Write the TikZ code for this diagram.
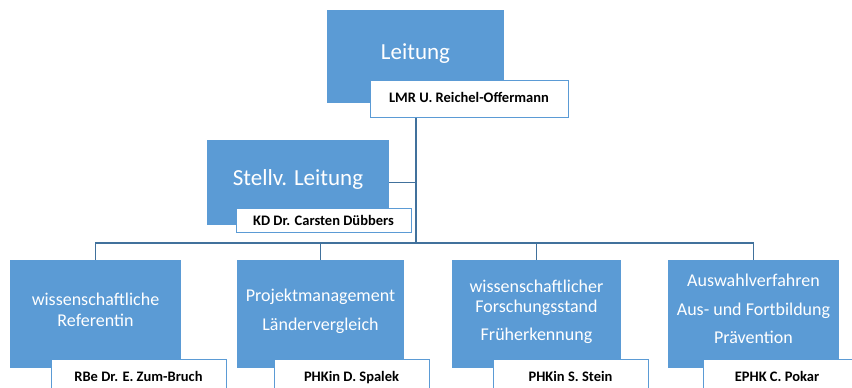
\documentclass[tikz,border=0pt]{standalone}
\usepackage{fontspec}
\setmainfont{Carlito}
\usetikzlibrary{fit}
\definecolor{boxblue}{HTML}{5B9BD5}
\definecolor{lineblue}{HTML}{41719C}
\tikzset{
  bluebox/.style={fill=boxblue, draw=none, inner sep=0pt},
  namebox/.style={fill=white, draw=boxblue, line width=1pt, inner sep=0pt},
  bigtxt/.style={text=white, font=\fontsize{23}{27}\selectfont, anchor=base, inner sep=0pt},
  midtxt/.style={text=white, font=\fontsize{18}{22}\selectfont, anchor=base, inner sep=0pt},
  nametxt/.style={text=black, font=\fontsize{14.5}{17}\selectfont\bfseries, anchor=base, inner sep=0pt},
  conn/.style={draw=lineblue, line width=1.8pt}
}
\begin{document}
\begin{tikzpicture}[x=1pt,y=-1pt]
\useasboundingbox (0,0) rectangle (852,388);
\coordinate (bus) at (416,243);
% top box
\node[bluebox, fit={(327,10)(504,103)}] (lei) {};
\node[bigtxt] (leit) at (415.5,59) {Leitung};
\node[namebox, fit={(370,80)(568,117)}] (lname) {};
\node[nametxt] (lnamet) at (469,102.5) {LMR U. Reichel-Offermann};
% deputy
\node[bluebox, fit={(207,140)(389,225)}] (stv) {};
\node[bigtxt] (stvt) at (298,185) {Stellv. Leitung};
\node[namebox, fit={(236,208)(411,232)}] (sname) {};
\node[nametxt] (snamet) at (323.5,225) {KD Dr. Carsten Dübbers};
% bottom boxes
\node[bluebox, fit={(10,260)(181,368)}] (b1) {};
\node[bluebox, fit={(237,260)(404,368)}] (b2) {};
\node[bluebox, fit={(452,260)(621,368)}] (b3) {};
\node[bluebox, fit={(668,260)(839,368)}] (b4) {};
\node[midtxt] (b1a) at (95.5,305) {wissenschaftliche};
\node[midtxt] (b1b) at (95.5,326) {Referentin};
\node[midtxt] (b2a) at (320.5,301) {Projektmanagement};
\node[midtxt] (b2b) at (320.5,330) {Ländervergleich};
\node[midtxt] (b3a) at (536.5,292) {wissenschaftlicher};
\node[midtxt] (b3b) at (536.5,312) {Forschungsstand};
\node[midtxt] (b3c) at (536.5,340) {Früherkennung};
\node[midtxt] (b4a) at (753.5,286) {Auswahlverfahren};
\node[midtxt] (b4b) at (753.5,315) {Aus- und Fortbildung};
\node[midtxt] (b4c) at (753.5,343) {Prävention};
\node[namebox, fit={(51,359)(226,400)}] (n1) {};
\node[namebox, fit={(274,359)(429,400)}] (n2) {};
\node[namebox, fit={(493,359)(648,400)}] (n3) {};
\node[namebox, fit={(703,359)(860,400)}] (n4) {};
\node[nametxt] (n1t) at (138.5,381) {RBe Dr. E. Zum-Bruch};
\node[nametxt] (n2t) at (351.5,381) {PHKin D. Spalek};
\node[nametxt] (n3t) at (570.5,381) {PHKin S. Stein};
\node[nametxt] (n4t) at (777,381) {EPHK C. Pokar};
% connectors
\draw[conn] (lname.south -| bus) -- (bus);
\draw[conn] (stv.east) -- (stv.east -| bus);
\draw[conn] (b1.north) |- (b4.north |- bus) -- (b4.north);
\draw[conn] (b2.north) -- (b2.north |- bus);
\draw[conn] (b3.north) -- (b3.north |- bus);
\end{tikzpicture}
\end{document}
